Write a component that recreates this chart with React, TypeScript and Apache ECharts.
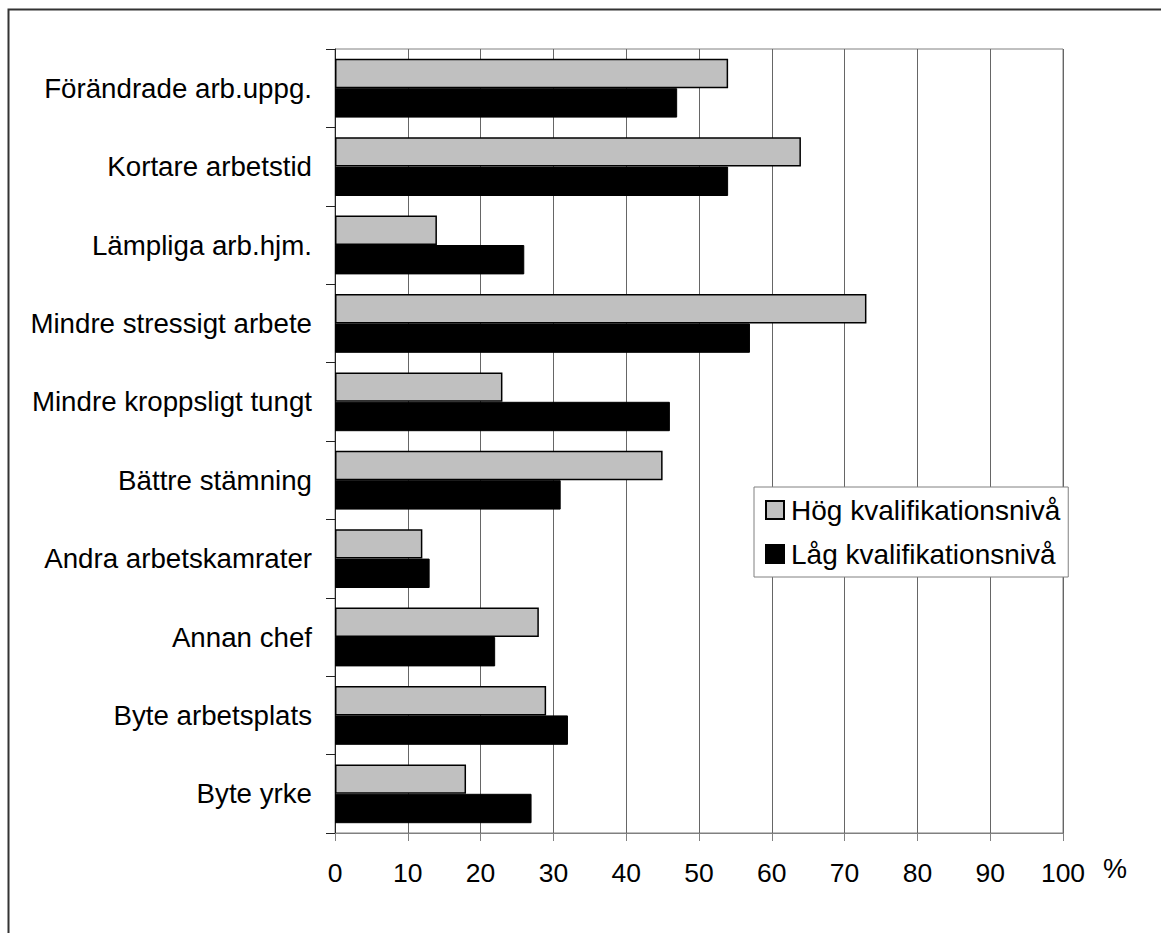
import React, { useEffect, useRef } from "react";
import * as echarts from "echarts";

// Reasons, listed top to bottom
const categories = [
  "Förändrade arb.uppg.",
  "Kortare arbetstid",
  "Lämpliga arb.hjm.",
  "Mindre stressigt arbete",
  "Mindre kroppsligt tungt",
  "Bättre stämning",
  "Andra arbetskamrater",
  "Annan chef",
  "Byte arbetsplats",
  "Byte yrke",
];

// Share (%) per qualification level
const hogValues = [54, 64, 14, 73, 23, 45, 12, 28, 29, 18];
const lagValues = [47, 54, 26, 57, 46, 31, 13, 22, 32, 27];

const seriesNames = ["Hög kvalifikationsnivå", "Låg kvalifikationsnivå"];

const FONT = "'Liberation Sans', Arial, sans-serif";

export default function App() {
  const ref = useRef<HTMLDivElement>(null);

  useEffect(() => {
    if (!ref.current) return;
    const chart = echarts.init(ref.current, null, { renderer: "svg" });
    chart.setOption({
      animation: false,
      backgroundColor: "#ffffff",
      textStyle: { fontFamily: FONT, color: "#000" },
      grid: {
        left: 335,
        top: 49,
        width: 728,
        height: 784,
        show: true,
        borderColor: "#808080",
        borderWidth: 1,
        containLabel: false,
      },
      legend: {
        orient: "vertical",
        left: 754,
        top: 487,
        padding: [9, 8, 9, 11],
        itemGap: 16,
        itemWidth: 18,
        itemHeight: 18,
        borderColor: "#808080",
        borderWidth: 1,
        backgroundColor: "#ffffff",
        icon: "rect",
        textStyle: {
          fontFamily: FONT,
          fontSize: 28,
          color: "#000",
          padding: [0, 0, 0, 2],
        },
        data: seriesNames,
      },
      xAxis: {
        type: "value",
        min: 0,
        max: 100,
        interval: 10,
        axisLine: { show: true, lineStyle: { color: "#808080", width: 1 } },
        axisTick: { show: true, length: 8, lineStyle: { color: "#808080" } },
        axisLabel: {
          margin: 26,
          fontSize: 26.5,
          fontFamily: FONT,
          color: "#000",
        },
        splitLine: { show: true, lineStyle: { color: "#666", width: 1 } },
      },
      yAxis: {
        type: "category",
        data: categories,
        inverse: true,
        axisLine: { show: true, lineStyle: { color: "#222", width: 1 } },
        axisTick: { show: true, length: 9, lineStyle: { color: "#222" } },
        axisLabel: {
          margin: 23,
          fontSize: 27.7,
          fontFamily: FONT,
          color: "#000",
        },
        splitLine: { show: false },
      },
      series: [
        {
          name: seriesNames[0],
          type: "bar",
          data: hogValues,
          barGap: "0%",
          barCategoryGap: "25%",
          itemStyle: { color: "#c0c0c0", borderColor: "#000", borderWidth: 1.5 },
        },
        {
          name: seriesNames[1],
          type: "bar",
          data: lagValues,
          barGap: "0%",
          barCategoryGap: "25%",
          itemStyle: { color: "#000", borderColor: "#000", borderWidth: 1 },
        },
      ],
      graphic: [
        {
          type: "text",
          left: 1103,
          top: 855,
          style: { text: "%", fontSize: 27, fontFamily: FONT, fill: "#000" },
        },
        {
          type: "rect",
          shape: { x: 8.5, y: 9.5, width: 1300, height: 1100 },
          style: { fill: "none", stroke: "#333", lineWidth: 2 },
          silent: true,
        },
      ],
    });
    return () => chart.dispose();
  }, []);

  return (
    <div
      ref={ref}
      style={{ position: "fixed", left: 0, top: 0, width: 1161, height: 933 }}
    />
  );
}
